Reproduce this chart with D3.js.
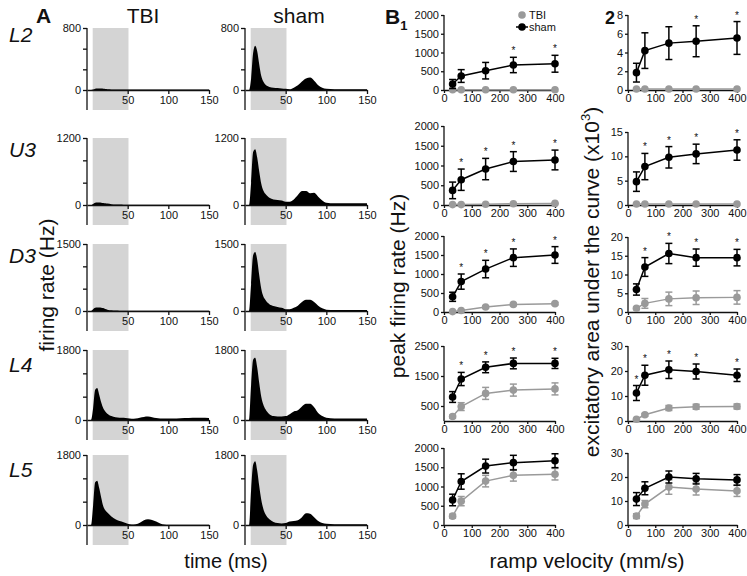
<!DOCTYPE html>
<html><head><meta charset="utf-8">
<script src="https://cdn.jsdelivr.net/npm/d3@7"></script>
<style>
body{margin:0;background:#fff}
svg{display:block;font-family:"Liberation Sans",Arial,sans-serif}
</style></head><body>
<svg id="c" width="747" height="576"></svg>
<script>
// ---------------- DATA ----------------
const rows = ["L2", "U3", "D3", "L4", "L5"];
const groups = ["TBI", "sham"];
// panel A: firing-rate histograms (Hz) sampled at these times (ms)
const times = [0, 5, 7.5, 10, 12.5, 15, 17.5, 20, 22.5, 25, 30, 35, 40, 45, 50, 55, 60, 65, 70, 75, 80, 85, 90, 95, 100, 110, 120, 130, 140, 150];
const histMax = [800, 1200, 1500, 1800, 1800];
const histTbi = [
  [0,0,5,15,20,20,18,15,12,10,8,5,5,5,5,5,5,5,5,5,5,5,5,5,5,5,5,5,5,5],
  [0,0,20,40,45,45,40,35,30,25,15,10,8,5,5,5,5,5,5,5,5,5,5,5,5,5,5,5,5,5],
  [0,0,40,70,80,80,75,65,45,30,15,10,8,5,5,5,5,5,5,5,5,5,5,5,5,5,5,5,5,5],
  [0,0,300,780,820,650,450,300,220,160,100,70,60,55,45,30,40,60,80,90,70,50,40,40,40,40,50,60,60,50],
  [0,0,500,1100,1140,950,700,480,380,320,220,150,100,70,30,10,20,60,120,150,130,90,40,10,5,5,5,5,5,5]
];
const histSham = [
  [0,0,150,480,570,500,330,180,110,70,40,30,25,20,15,10,30,60,110,150,160,120,60,30,15,10,10,10,10,10],
  [0,0,400,950,1000,850,600,380,260,200,130,100,90,80,60,60,100,180,250,250,210,220,150,80,40,30,30,30,30,30],
  [0,0,600,1250,1320,1150,800,500,330,250,150,110,90,70,40,40,70,120,200,250,250,200,120,60,30,20,20,20,20,20],
  [0,0,900,1550,1600,1350,950,600,400,280,150,100,90,90,100,150,220,250,350,420,420,330,180,100,60,40,40,40,40,40],
  [0,0,900,1550,1640,1400,1000,650,420,280,150,80,50,40,50,90,100,120,200,300,290,200,100,50,30,20,20,20,20,20]
];
const rampWindow = [7, 51];
const xTicksA = [50, 100, 150];

// panels B: ramp velocity (mm/s)
const velocities = [31, 62, 150, 250, 400];
const xTicksB = [0, 100, 200, 300, 400];
// B1 peak firing rate (Hz)
const peakShamMean = [[160,373,515,667,700],[370,640,910,1100,1140],[400,800,1130,1430,1500],[800,1400,1790,1920,1920],[650,1130,1530,1620,1670]];
const peakShamSem  = [[120,170,220,205,225],[210,270,270,250,250],[120,200,230,230,220],[180,220,180,180,170],[150,200,180,190,180]];
const peakTbiMean  = [[5,5,5,5,5],[10,10,20,30,40],[10,40,130,200,220],[150,480,920,1030,1070],[230,620,1140,1290,1320]];
const peakTbiSem   = [[0,0,0,0,0],[5,5,5,8,10],[10,20,30,30,30],[50,130,200,200,200],[50,120,150,150,150]];
const peakStars    = [[0,0,0,1,1],[0,1,1,1,1],[0,1,1,1,1],[0,1,1,1,1],[0,0,0,0,0]];
const peakMax      = [2000, 2000, 2000, 2500, 2000];
const peakTicks    = [[0,500,1000,1500,2000],[0,500,1000,1500,2000],[0,500,1000,1500,2000],[500,1500,2500],[0,500,1000,1500,2000]];
// B2 excitatory area under the curve (x10^3)
const areaShamMean = [[1.85,4.2,5.0,5.2,5.55],[4.8,7.9,9.8,10.5,11.3],[6,12,15.6,14.5,14.5],[11.2,18.3,20.5,19.8,18.3],[10.8,15.3,20,19.3,18.8]];
const areaShamSem  = [[1.0,1.9,1.75,1.65,1.75],[2.0,2.7,2.2,2.0,2.1],[1.5,2.5,2.7,2.3,2.2],[3,4,3.5,3,2.5],[2.7,2.7,2.5,2.2,2.2]];
const areaTbiMean  = [[0.1,0.1,0.1,0.1,0.1],[0.2,0.2,0.2,0.2,0.2],[1.0,2.3,3.5,3.8,3.9],[0.7,2.5,5.2,5.7,5.8],[3.7,8.7,15.8,15,14.2]];
const areaTbiSem   = [[0,0,0,0,0],[0,0,0,0,0],[0.3,1.3,1.8,1.8,1.8],[0.3,0.5,1,1,1],[1,1.5,3,2.5,2.3]];
const areaStars    = [[0,0,0,1,1],[0,1,1,1,1],[0,1,1,1,1],[1,1,1,1,1],[0,0,0,0,0]];
const areaMax      = [8, 15, 20, 30, 30];
const areaTicks    = [[0,2,4,6,8],[0,5,10,15],[0,5,10,15,20],[0,10,20,30],[0,10,20,30]];

// ---------------- LAYOUT ----------------
const svg = d3.select("#c");
const FF = "'Liberation Sans', Arial, sans-serif";
const INK = "#111", GREY = "#9a9a9a", SHADE = "#d4d4d4";
const FONT_TICK = 11;
const fmt = d3.format("d");

const aTop = [28, 138, 244, 350, 455];
const aZero = [90, 205, 311, 420, 525];
const aX0 = [87, 245];      // pixel of t=0 for TBI, sham columns
const aW = 122;             // width of 0..150 ms
const aExt = 20;            // axis extension below zero

function styleAxis(g) {
  g.attr("font-family", FF);
  g.selectAll("path,line").attr("stroke", INK).attr("stroke-width", 1.3);
  g.selectAll("text").attr("font-size", FONT_TICK).attr("fill", INK).attr("font-family", FF);
}

// ----- Panel A -----
rows.forEach((r, i) => {
  [histTbi[i], histSham[i]].forEach((vals, c) => {
    const x = d3.scaleLinear().domain([0, 150]).range([aX0[c], aX0[c] + aW]);
    const y = d3.scaleLinear().domain([0, histMax[i]]).range([aZero[i], aTop[i]]);
    const g = svg.append("g");
    g.append("rect")
      .attr("x", x(rampWindow[0])).attr("width", x(rampWindow[1]) - x(rampWindow[0]))
      .attr("y", y(histMax[i])).attr("height", aZero[i] + aExt - y(histMax[i]))
      .attr("fill", SHADE);
    g.append("path").datum(vals)
      .attr("d", d3.area().x((d, j) => x(times[j])).y0(y(0)).y1(d => y(d)).curve(d3.curveMonotoneX))
      .attr("fill", "#000");
    const xa = g.append("g").attr("transform", `translate(0,${y(0)})`)
      .call(d3.axisBottom(x).tickValues(xTicksA).tickFormat(fmt).tickSize(4).tickSizeOuter(0).tickPadding(2));
    styleAxis(xa);
    const m = histMax[i];
    const ya = g.append("g").attr("transform", `translate(${x(0)},0)`)
      .call(d3.axisLeft(y).tickValues([0, m / 3, 2 * m / 3, m])
        .tickFormat(d => (d === 0 || d === m) ? fmt(d) : "").tickSize(4).tickPadding(2));
    ya.select(".domain").remove();
    styleAxis(ya);
    g.append("line").attr("x1", x(0)).attr("x2", x(0))
      .attr("y1", y(m)).attr("y2", aZero[i] + aExt)
      .attr("stroke", INK).attr("stroke-width", 1.3);
  });
  svg.append("text").attr("x", 9).attr("y", aZero[i] - 48).text(r)
    .attr("font-size", 21).attr("font-style", "italic").attr("fill", INK);
});

svg.append("text").attr("x", 36).attr("y", 23).text("A")
  .attr("font-size", 21).attr("font-weight", "bold").attr("fill", INK);
svg.append("text").attr("x", aX0[0] + 56).attr("y", 23).attr("text-anchor", "middle").text(groups[0])
  .attr("font-size", 21).attr("fill", INK);
svg.append("text").attr("x", aX0[1] + 54).attr("y", 23).attr("text-anchor", "middle").text(groups[1])
  .attr("font-size", 21).attr("fill", INK);
svg.append("text").attr("transform", "translate(54,285) rotate(-90)").attr("text-anchor", "middle")
  .text("firing rate (Hz)").attr("font-size", 21).attr("fill", INK);
svg.append("text").attr("x", 226).attr("y", 568).attr("text-anchor", "middle")
  .text("time (ms)").attr("font-size", 20).attr("fill", INK);

// ----- Panels B -----
const bX = [[444, 555], [628, 737]];
const bTop = [[15, 126, 236, 346, 448], [15, 132, 237, 346, 453]];
const bZero = [90, 205, 312, 421, 525];

function drawSeries(g, x, y, mean, sem, color) {
  const pts = velocities.map((v, j) => ({ v, m: mean[j], s: sem[j] }));
  g.append("path").datum(pts)
    .attr("d", d3.line().x(d => x(d.v)).y(d => y(d.m)))
    .attr("fill", "none").attr("stroke", color).attr("stroke-width", 1.5);
  const eb = g.append("g").attr("stroke", color).attr("stroke-width", 1.5);
  pts.forEach(d => {
    if (d.s <= 0) return;
    eb.append("line").attr("x1", x(d.v)).attr("x2", x(d.v)).attr("y1", y(d.m - d.s)).attr("y2", y(d.m + d.s));
    [d.m - d.s, d.m + d.s].forEach(e =>
      eb.append("line").attr("x1", x(d.v) - 3.5).attr("x2", x(d.v) + 3.5).attr("y1", y(e)).attr("y2", y(e)));
  });
  g.selectAll(null).data(pts).enter().append("circle")
    .attr("cx", d => x(d.v)).attr("cy", d => y(d.m)).attr("r", 3.8).attr("fill", color);
}

const bSets = [
  { max: peakMax, ticks: peakTicks, sm: peakShamMean, ss: peakShamSem, tm: peakTbiMean, ts: peakTbiSem, st: peakStars },
  { max: areaMax, ticks: areaTicks, sm: areaShamMean, ss: areaShamSem, tm: areaTbiMean, ts: areaTbiSem, st: areaStars }
];

bSets.forEach((set, k) => {
  rows.forEach((r, i) => {
    const x = d3.scaleLinear().domain([0, 400]).range(bX[k]);
    const y = d3.scaleLinear().domain([0, set.max[i]]).range([bZero[i], bTop[k][i]]);
    const g = svg.append("g");
    const xa = g.append("g").attr("transform", `translate(0,${bZero[i]})`)
      .call(d3.axisBottom(x).tickValues(xTicksB).tickFormat(fmt).tickSize(3).tickSizeOuter(0).tickPadding(1));
    styleAxis(xa);
    const ya = g.append("g").attr("transform", `translate(${bX[k][0]},0)`)
      .call(d3.axisLeft(y).tickValues(set.ticks[i]).tickFormat(fmt).tickSize(3).tickPadding(2));
    ya.select(".domain").remove();
    styleAxis(ya);
    g.append("line").attr("x1", bX[k][0]).attr("x2", bX[k][0])
      .attr("y1", y(set.max[i])).attr("y2", bZero[i]).attr("stroke", INK).attr("stroke-width", 1.3);
    drawSeries(g, x, y, set.tm[i], set.ts[i], GREY);
    drawSeries(g, x, y, set.sm[i], set.ss[i], "#000");
    velocities.forEach((v, j) => {
      if (!set.st[i][j]) return;
      g.append("text").attr("x", x(v)).attr("y", y(set.sm[i][j] + set.ss[i][j]) - 3)
        .attr("text-anchor", "middle").attr("font-size", 10).attr("fill", INK).text("*");
    });
  });
});

// legend
const lg = svg.append("g");
lg.append("circle").attr("cx", 522).attr("cy", 15).attr("r", 3.8).attr("fill", GREY);
lg.append("text").attr("x", 529).attr("y", 19).text(groups[0]).attr("font-size", 11).attr("fill", INK);
lg.append("line").attr("x1", 516).attr("x2", 528).attr("y1", 27).attr("y2", 27).attr("stroke", "#000").attr("stroke-width", 1.5);
lg.append("circle").attr("cx", 522).attr("cy", 27).attr("r", 3.8).attr("fill", "#000");
lg.append("text").attr("x", 529).attr("y", 31).text(groups[1]).attr("font-size", 11).attr("fill", INK);

// panel letters
const b1 = svg.append("text").attr("x", 385).attr("y", 24).attr("font-weight", "bold").attr("fill", INK);
b1.append("tspan").text("B").attr("font-size", 21);
b1.append("tspan").text("1").attr("font-size", 13).attr("dy", 6);
svg.append("text").attr("x", 605).attr("y", 24).text("2").attr("font-weight", "bold").attr("font-size", 18).attr("fill", INK);

// axis titles
svg.append("text").attr("transform", "translate(405,286) rotate(-90)").attr("text-anchor", "middle")
  .text("peak firing rate (Hz)").attr("font-size", 21).attr("fill", INK);
const ex = svg.append("text").attr("transform", "translate(599,282) rotate(-90)").attr("text-anchor", "middle")
  .attr("font-size", 21).attr("fill", INK);
ex.append("tspan").text("excitatory area under the curve (x10");
ex.append("tspan").text("3").attr("font-size", 13).attr("dy", -9);
ex.append("tspan").text(")").attr("dy", 9);
svg.append("text").attr("x", 587).attr("y", 568).attr("text-anchor", "middle")
  .text("ramp velocity (mm/s)").attr("font-size", 21).attr("fill", INK);
</script>
</body></html>
